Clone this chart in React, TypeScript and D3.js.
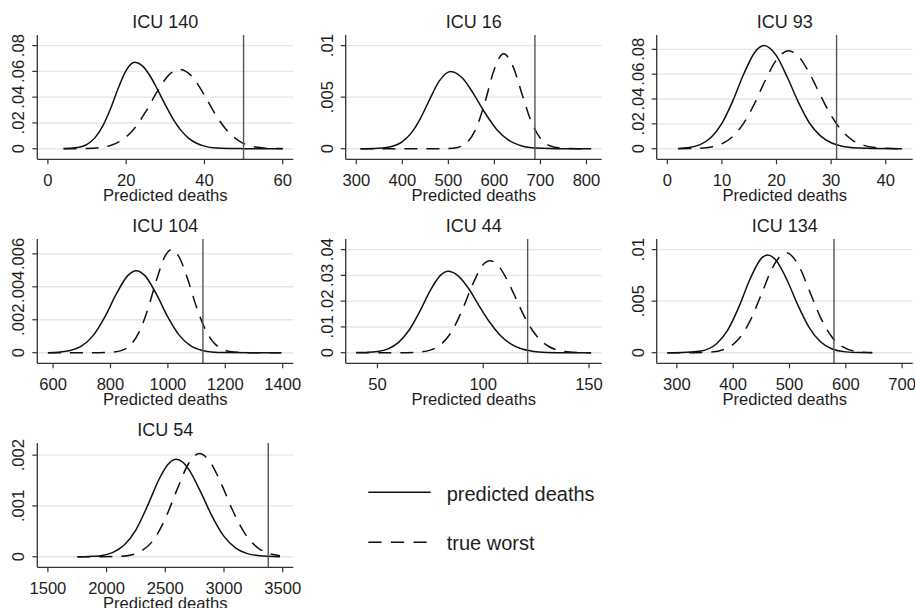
import React from "react";
import * as d3 from "d3";

type Pt = [number, number];

// ---- data ----
const panelTitles = ["ICU 140", "ICU 16", "ICU 93", "ICU 104", "ICU 44", "ICU 134", "ICU 54"];

const observedDeaths = [50, 688, 31, 1122, 121, 579, 3377];

const xTickValues: number[][] = [
  [0, 20, 40, 60],
  [300, 400, 500, 600, 700, 800],
  [0, 10, 20, 30, 40],
  [600, 800, 1000, 1200, 1400],
  [50, 100, 150],
  [300, 400, 500, 600, 700],
  [1500, 2000, 2500, 3000, 3500],
];

const yTickValues: number[][] = [
  [0, 0.02, 0.04, 0.06, 0.08],
  [0, 0.005, 0.01],
  [0, 0.02, 0.04, 0.06, 0.08],
  [0, 0.002, 0.004, 0.006],
  [0, 0.01, 0.02, 0.03, 0.04],
  [0, 0.005, 0.01],
  [0, 0.001, 0.002],
];

const yTickLabels: string[][] = [
  ["0", ".02", ".04", ".06", ".08"],
  ["0", ".005", ".01"],
  ["0", ".02", ".04", ".06", ".08"],
  ["0", ".002", ".004", ".006"],
  ["0", ".01", ".02", ".03", ".04"],
  ["0", ".005", ".01"],
  ["0", ".001", ".002"],
];

const icu140Predicted: Pt[] = [[4,0.0001],[7,0.0007],[10,0.0034],[12,0.0084],[14,0.0175],[16,0.031],[18,0.0471],[20,0.0608],[22.2,0.067],[24,0.0646],[26,0.057],[28,0.046],[30,0.034],[32,0.023],[34,0.0142],[36,0.008],[38,0.0042],[40,0.002],[43,0.0005],[46,0.00015],[50,0.00005],[55,0],[60,0]];
const icu140Worst: Pt[] = [[4,0],[7,0.00004],[10,0.0002],[13,0.0008],[16,0.0025],[19,0.0069],[22,0.0153],[25,0.0287],[28,0.0446],[31,0.0575],[33.7,0.0615],[37,0.0555],[40,0.0414],[43,0.0256],[46,0.0133],[49,0.0057],[52,0.002],[55,0.0006],[58,0.00015],[60,0.0001]];

const icu16Predicted: Pt[] = [[309,0],[340,0.00002],[370,0.00014],[400,0.00068],[420,0.00156],[440,0.003],[460,0.00484],[480,0.00655],[505,0.0075],[530,0.00688],[555,0.0053],[580,0.00344],[605,0.00187],[630,0.00086],[660,0.00027],[690,0.00006],[720,0.00001],[760,0],[810,0]];
const icu16Worst: Pt[] = [[309,0],[400,0],[480,0],[500,0.00002],[520,0.00012],[540,0.00058],[560,0.00194],[580,0.0046],[600,0.00774],[620,0.0092],[640,0.00801],[660,0.00529],[680,0.00264],[700,0.001],[720,0.00029],[750,0.00003],[780,0],[810,0]];

const icu93Predicted: Pt[] = [[2,0.00025],[4,0.001],[6,0.0033],[8,0.009],[10,0.0204],[12,0.0385],[14,0.0601],[16,0.0775],[17.7,0.083],[20,0.0747],[22,0.0573],[24,0.0375],[26,0.0209],[28,0.0105],[30,0.0048],[32,0.002],[35,0.0005],[38,0.0001],[43,0]];
const icu93Worst: Pt[] = [[2,0],[4,0.0001],[6,0.0004],[8,0.0014],[10,0.004],[12,0.0099],[14,0.0206],[16,0.0366],[18,0.0555],[20,0.0716],[22.2,0.0789],[24,0.0745],[26,0.061],[28,0.0434],[30,0.0267],[32,0.0143],[34,0.0066],[36,0.0027],[38,0.0009],[40,0.0003],[43,0]];

const icu104Predicted: Pt[] = [[582,0],[620,0.00003],[660,0.00013],[700,0.00041],[740,0.00105],[780,0.00216],[820,0.00355],[860,0.00468],[890,0.00498],[920,0.00468],[960,0.00355],[1000,0.00216],[1040,0.00105],[1080,0.00041],[1120,0.00013],[1160,0.00003],[1200,0.00001],[1300,0],[1395,0]];
const icu104Worst: Pt[] = [[582,0],[700,0],[760,0],[800,0.00002],[840,0.00014],[870,0.00047],[900,0.00126],[930,0.00263],[960,0.0044],[990,0.00586],[1013,0.00626],[1040,0.00578],[1070,0.00441],[1100,0.00276],[1130,0.00143],[1160,0.0006],[1190,0.00021],[1230,0.00004],[1300,0],[1395,0]];

const icu44Predicted: Pt[] = [[40,0.00003],[45,0.00012],[50,0.00046],[55,0.0015],[60,0.004],[65,0.0088],[70,0.016],[75,0.0242],[80,0.0302],[83.4,0.0316],[88,0.0299],[93,0.025],[98,0.0183],[103,0.0119],[108,0.0068],[113,0.0034],[118,0.0015],[123,0.0006],[130,0.00012],[140,0],[151,0]];
const icu44Worst: Pt[] = [[40,0],[60,0],[70,0.00025],[75,0.001],[80,0.0032],[85,0.0081],[90,0.0164],[95,0.0265],[100,0.0342],[103.1,0.0357],[107,0.0339],[111,0.0287],[115,0.0219],[119,0.0148],[123,0.009],[127,0.0049],[131,0.0024],[136,0.0008],[142,0.0002],[151,0]];

const icu134Predicted: Pt[] = [[283,0],[310,0.00001],[340,0.00013],[370,0.00084],[390,0.00216],[410,0.00442],[430,0.00715],[450,0.00915],[461,0.00948],[475,0.00903],[495,0.00712],[515,0.0046],[535,0.00244],[555,0.00106],[575,0.00038],[600,0.00008],[625,0.00001],[647,0]];
const icu134Worst: Pt[] = [[283,0],[330,0.000005],[360,0.00006],[390,0.00047],[410,0.00135],[430,0.00309],[450,0.00565],[470,0.00826],[494,0.0097],[515,0.00858],[535,0.00606],[555,0.00343],[575,0.00155],[595,0.00056],[620,0.00011],[647,0.00001]];

const icu54Predicted: Pt[] = [[1751,0],[1850,0.000005],[1950,0.00002],[2050,0.00008],[2150,0.00023],[2250,0.00053],[2350,0.00101],[2450,0.00154],[2520,0.00181],[2593,0.00192],[2650,0.00186],[2700,0.00172],[2800,0.00128],[2900,0.00079],[3000,0.0004],[3100,0.00017],[3200,0.00006],[3300,0.00002],[3477,0]];
const icu54Worst: Pt[] = [[1751,0],[1950,0],[2100,0.000007],[2200,0.00003],[2300,0.00012],[2400,0.00033],[2500,0.00075],[2600,0.00132],[2700,0.00184],[2790,0.00203],[2880,0.00187],[2980,0.00142],[3080,0.00088],[3180,0.00045],[3280,0.00019],[3380,0.000065],[3477,0.00002]];

const predictedSeries: Pt[][] = [icu140Predicted, icu16Predicted, icu93Predicted, icu104Predicted, icu44Predicted, icu134Predicted, icu54Predicted];
const worstSeries: Pt[][] = [icu140Worst, icu16Worst, icu93Worst, icu104Worst, icu44Worst, icu134Worst, icu54Worst];

const legendLabels = ["predicted deaths", "true worst"];

// ---- layout ----
const W = 915;
const H = 608;
const COLS: [number, number][] = [[37.3, 293.3], [345.7, 601.7], [656.7, 912.7]];
const ROW_TOP = 35;
const ROW_BOTTOM = 159.3;
const ROW_STEP = 204;
const PAD = 10.6;
const FONT = "'Liberation Sans', Arial, Helvetica, sans-serif";
const TEXT = "#1e1e1e";
const DASH = "13,9";

function Panel({ i }: { i: number }) {
  const col = i % 3;
  const row = Math.floor(i / 3);
  const [x0, x1] = COLS[col];
  const y0 = ROW_TOP + row * ROW_STEP;
  const y1 = ROW_BOTTOM + row * ROW_STEP;
  const pred = predictedSeries[i];
  const worst = worstSeries[i];
  const all = pred.concat(worst);
  const xt = xTickValues[i];
  const yt = yTickValues[i];
  const xMin = Math.min(d3.min(all, (d) => d[0]) as number, xt[0]);
  const xMax = Math.max(d3.max(all, (d) => d[0]) as number, xt[xt.length - 1]);
  const yMax = Math.max(d3.max(all, (d) => d[1]) as number, yt[yt.length - 1]);
  const x = d3.scaleLinear().domain([xMin, xMax]).range([x0 + PAD, x1 - PAD]);
  const y = d3.scaleLinear().domain([0, yMax]).range([y1 - PAD, y0 + PAD]);
  const line = d3
    .line<Pt>()
    .x((d) => x(d[0]))
    .y((d) => y(d[1]))
    .curve(d3.curveMonotoneX);
  const cx = (x0 + x1) / 2;
  const off = row * ROW_STEP;
  return (
    <g>
      <text x={cx} y={28 + off} textAnchor="middle" fontSize={18} fill={TEXT} fontFamily={FONT}>
        {panelTitles[i]}
      </text>
      {yt.map((v) => (
        <line key={"g" + v} x1={x0} x2={x1} y1={y(v)} y2={y(v)} stroke="#e6e6e6" strokeWidth={1.4} />
      ))}
      {yt.map((v, k) => (
        <g key={"yt" + v}>
          <line x1={x0 - 5} x2={x0} y1={y(v)} y2={y(v)} stroke="#333" strokeWidth={1.2} />
          <text
            transform={`translate(${x0 - 13},${y(v)}) rotate(-90)`}
            textAnchor="middle"
            fontSize={16.6}
            fill={TEXT}
            fontFamily={FONT}
          >
            {yTickLabels[i][k]}
          </text>
        </g>
      ))}
      {xt.map((v) => (
        <g key={"xt" + v}>
          <line x1={x(v)} x2={x(v)} y1={y1} y2={y1 + 5} stroke="#333" strokeWidth={1.2} />
          <text x={x(v)} y={185.5 + off} textAnchor="middle" fontSize={16.6} fill={TEXT} fontFamily={FONT}>
            {v}
          </text>
        </g>
      ))}
      <text x={cx} y={201 + off} textAnchor="middle" fontSize={16.6} fill={TEXT} fontFamily={FONT}>
        Predicted deaths
      </text>
      <path d={line(pred) || ""} fill="none" stroke="#111" strokeWidth={1.5} />
      <path d={line(worst) || ""} fill="none" stroke="#111" strokeWidth={1.5} strokeDasharray={DASH} />
      <line
        x1={x(observedDeaths[i])}
        x2={x(observedDeaths[i])}
        y1={y0}
        y2={y1}
        stroke="#555"
        strokeWidth={1.4}
      />
      <line x1={x0} x2={x0} y1={y0} y2={y1} stroke="#333" strokeWidth={1.3} />
      <line x1={x0} x2={x1} y1={y1} y2={y1} stroke="#333" strokeWidth={1.3} />
    </g>
  );
}

export default function App() {
  return (
    <svg
      width={W}
      height={H}
      viewBox={`0 0 ${W} ${H}`}
      style={{ position: "absolute", left: 0, top: 0, background: "#fff" }}
    >
      <rect x={0} y={0} width={W} height={H} fill="#fff" />
      {panelTitles.map((_, i) => (
        <Panel key={i} i={i} />
      ))}
      <g>
        <line x1={368.3} x2={430.7} y1={492.3} y2={492.3} stroke="#111" strokeWidth={1.5} />
        <text x={446.7} y={501} fontSize={20} fill={TEXT} fontFamily={FONT}>
          {legendLabels[0]}
        </text>
        <line x1={368.3} x2={426.7} y1={542.3} y2={542.3} stroke="#111" strokeWidth={1.5} strokeDasharray="13.3,9.3" />
        <text x={446.7} y={550} fontSize={20} fill={TEXT} fontFamily={FONT}>
          {legendLabels[1]}
        </text>
      </g>
    </svg>
  );
}
